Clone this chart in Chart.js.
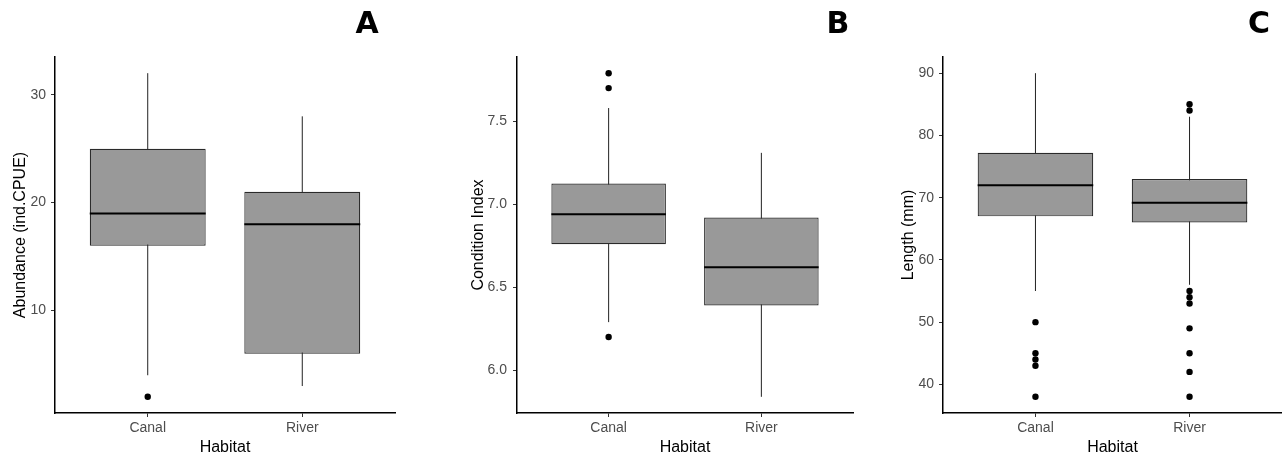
<!DOCTYPE html>
<html>
<head>
<meta charset="utf-8">
<script src="https://cdn.jsdelivr.net/npm/chart.js@4.4.1/dist/chart.umd.min.js"></script>
<style>
body{margin:0;background:#fff;width:1282px;height:460px;position:relative;overflow:hidden}
canvas{position:absolute;top:0}
.tag{position:absolute;top:8px;width:40px;text-align:center;font:bold 30px "DejaVu Sans";line-height:30px;color:#000}
</style>
</head>
<body>
<canvas id="chartA" width="400" height="460" style="left:0"></canvas>
<canvas id="chartB" width="420" height="460" style="left:440px"></canvas>
<canvas id="chartC" width="402" height="460" style="left:880px"></canvas>
<div class="tag" style="left:347px">A</div>
<div class="tag" style="left:818px">B</div>
<div class="tag" style="left:1239px">C</div>
<script>
const habitats = ['Canal', 'River'];

// A - abundance
const abundLow = [4, 3];
const abundQ1 = [16, 6];
const abundMed = [19, 18];
const abundQ3 = [25, 21];
const abundHigh = [32, 28];
const abundOut = [[2], []];
const abundTicks = [10, 20, 30];

// B - condition index
const condLow = [6.29, 5.84];
const condQ1 = [6.76, 6.39];
const condMed = [6.94, 6.62];
const condQ3 = [7.125, 6.92];
const condHigh = [7.58, 7.31];
const condOut = [[7.79, 7.70, 6.20], []];
const condTicks = [6.0, 6.5, 7.0, 7.5];

// C - length
const lenLow = [55, 56];
const lenQ1 = [67, 66];
const lenMed = [72, 69.2];
const lenQ3 = [77.2, 73];
const lenHigh = [90, 83];
const lenOut = [[50, 45, 44, 43, 38], [85, 84, 55, 54, 53, 49, 45, 42, 38]];
const lenTicks = [40, 50, 60, 70, 80, 90];

const BOX_W = 0.75;   // ggplot default box width
const X_PAD = 0.6;    // discrete axis expansion
const FONT = "'Liberation Sans', Arial, sans-serif";

Chart.defaults.font.family = FONT;
Chart.defaults.animation = false;

const axisStyle = {
    grid: {display: true, drawOnChartArea: false, drawTicks: true, tickLength: 4, color: '#333', offset: false},
    border: {display: true, color: '#000', width: 1.5}
};

const boxPanel = (id, low, q1, med, q3, high, out, yTicks, dec, yTitle, lay) => {
    let all = low.concat(high).concat(out.flat());
    let lo = Math.min(...all), hi = Math.max(...all);
    let pad = (hi - lo) * 0.05;

    let datasets = [];
    habitats.map((h, i) => {
        datasets.push({
            type: 'line', order: 4,
            data: [{x: i + 1, y: low[i]}, {x: i + 1, y: high[i]}],
            borderColor: '#222', borderWidth: 1, pointRadius: 0
        });
        datasets.push({
            type: 'line', order: 2,
            data: [{x: i + 1 - BOX_W / 2, y: med[i]}, {x: i + 1 + BOX_W / 2, y: med[i]}],
            borderColor: '#000', borderWidth: 2, pointRadius: 0
        });
    });
    datasets.push({
        type: 'bar', order: 3,
        data: habitats.map((h, i) => ({x: i + 1, y: [q1[i], q3[i]]})),
        backgroundColor: '#999999', borderColor: '#2a2a2a', borderWidth: 1.2, borderSkipped: false,
        barPercentage: BOX_W, categoryPercentage: 1
    });
    datasets.push({
        type: 'scatter', order: 1,
        data: out.flatMap((vals, i) => vals.map(v => ({x: i + 1, y: v}))),
        pointRadius: 3.2, backgroundColor: '#000', borderWidth: 0
    });

    return new Chart(document.getElementById(id).getContext('2d'), {
        type: 'bar',
        data: {datasets: datasets},
        options: {
            responsive: false,
            devicePixelRatio: 1,
            layout: {autoPadding: false, padding: {top: 57, right: lay.right, bottom: 0, left: 0}},
            plugins: {legend: {display: false}, tooltip: {enabled: false}},
            scales: {
                x: {
                    type: 'linear', offset: false,
                    min: 1 - X_PAD, max: habitats.length + X_PAD,
                    afterBuildTicks: s => { s.ticks = habitats.map((h, i) => ({value: i + 1})); },
                    afterFit: s => { s.height = 47; },
                    ticks: {callback: v => habitats[v - 1], color: '#4d4d4d', font: {size: 14}, padding: 3, maxRotation: 0},
                    title: {display: true, text: 'Habitat', color: '#000', font: {size: 16}, padding: {top: 0, bottom: 3}},
                    ...axisStyle
                },
                y: {
                    type: 'linear',
                    min: lo - pad, max: hi + pad,
                    afterBuildTicks: s => { s.ticks = yTicks.map(v => ({value: v})); },
                    afterFit: s => { s.width = lay.axisW; },
                    ticks: {callback: v => v.toFixed(dec), color: '#4d4d4d', font: {size: 14}, padding: lay.tickPad},
                    title: {display: true, text: yTitle, color: '#000', font: {size: 16}, padding: {top: lay.titlePad, bottom: 0}},
                    ...axisStyle
                }
            }
        }
    });
};

boxPanel('chartA', abundLow, abundQ1, abundMed, abundQ3, abundHigh, abundOut, abundTicks, 0,
    'Abundance (ind.CPUE)', {axisW: 55, right: 5, tickPad: 5, titlePad: 11});
boxPanel('chartB', condLow, condQ1, condMed, condQ3, condHigh, condOut, condTicks, 1,
    'Condition Index', {axisW: 77, right: 7, tickPad: 6, titlePad: 29});
boxPanel('chartC', lenLow, lenQ1, lenMed, lenQ3, lenHigh, lenOut, lenTicks, 0,
    'Length (mm)', {axisW: 63, right: 0, tickPad: 5, titlePad: 19});
</script>
</body>
</html>
